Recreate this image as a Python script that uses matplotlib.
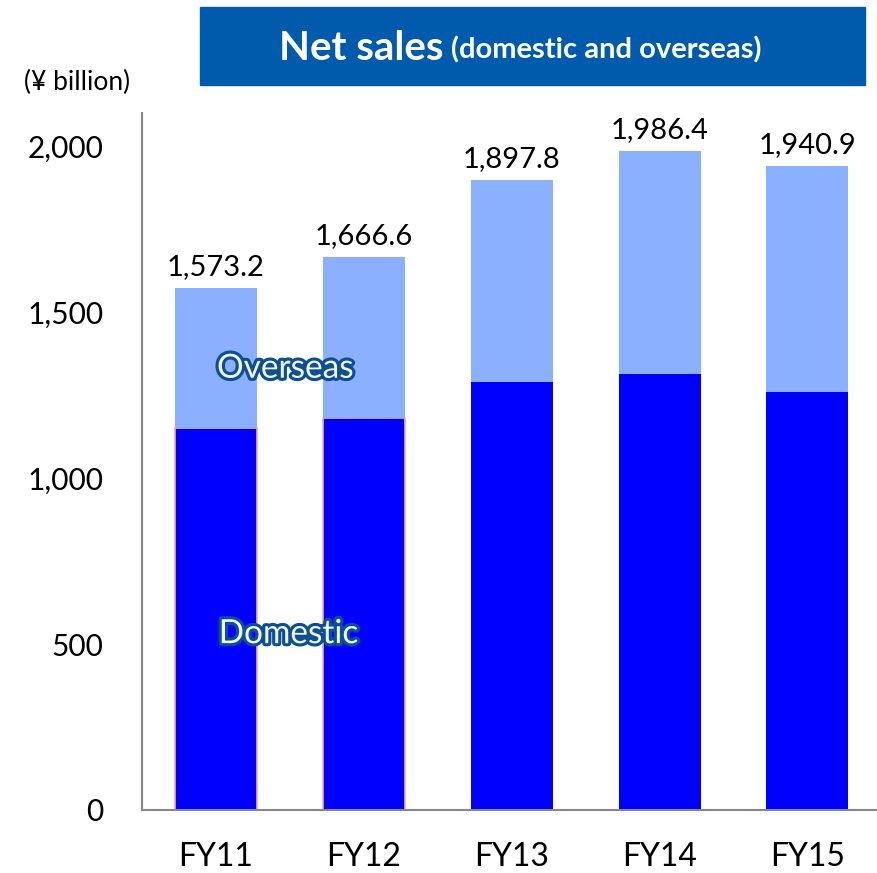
import matplotlib.pyplot as plt
import matplotlib.patheffects as pe
from matplotlib.patches import Rectangle
import numpy as np

plt.rcParams['font.family'] = ['Lato', 'DejaVu Sans']

years = ['FY11', 'FY12', 'FY13', 'FY14', 'FY15']
domestic = [1150.6, 1180.7, 1289.0, 1313.0, 1259.0]
total = [1573.2, 1666.6, 1897.8, 1986.4, 1940.9]
overseas = [t - d for t, d in zip(total, domestic)]
total_labels = ['1,573.2', '1,666.6', '1,897.8', '1,986.4', '1,940.9']

fig = plt.figure(figsize=(8.77, 8.73), dpi=100)
ax = fig.add_axes([0.162, 0.0722, 0.843, 0.798])

x = np.arange(len(years))
w = 0.555
edges = ['#F4B183', '#F4B183', 'none', 'none', 'none']
ax.bar(x, domestic, w, color='#0000FF', edgecolor=edges, linewidth=1.2, zorder=2)
ax.bar(x, overseas, w, bottom=domestic, color='#8AB0FF', edgecolor='none', zorder=2)

for xi, t, lab in zip(x, total, total_labels):
    ax.text(xi, t + 25, lab, ha='center', va='bottom', fontsize=21, color='black')

ax.set_xlim(-0.5, 4.5)
ax.set_ylim(0, 2100)
ax.set_yticks([0, 500, 1000, 1500, 2000])
ax.set_yticklabels(['0', '500', '1,000', '1,500', '2,000'])
ax.set_xticks(x)
ax.set_xticklabels(years)
ax.tick_params(axis='y', length=0, labelsize=21.5, pad=28)
ax.tick_params(axis='x', length=0, labelsize=23, pad=23)
for s in ['top', 'right']:
    ax.spines[s].set_visible(False)
for s in ['left', 'bottom']:
    ax.spines[s].set_color('#888888')
    ax.spines[s].set_linewidth(1.5)

outline = [pe.withStroke(linewidth=4.5, foreground='#0B4F94')]
ax.text(0.47, 1330, 'Overseas', ha='center', va='center', fontsize=24,
        color='#F5F5EE', path_effects=outline, zorder=5)
ax.text(0.49, 530, 'Domestic', ha='center', va='center', fontsize=24,
        color='#F5F5EE', path_effects=outline, zorder=5)

fig.text(0.088, 0.905, '(¥ billion)', ha='center', va='center', fontsize=19)

# title banner
fig.patches.append(Rectangle((200 / 877, 1 - 85 / 873), 665 / 877, 78 / 873,
                             transform=fig.transFigure, color='#005BAC', zorder=0))
t1 = fig.text(0.318, 1 - 48 / 873, 'Net sales', ha='left', va='center',
              fontsize=29, fontweight='bold', color='white')
fig.canvas.draw()
bb = t1.get_window_extent()
fig.text(bb.x1 / 877 + 0.009, 1 - 50 / 873, '(domestic and overseas)', ha='left', va='center',
         fontsize=21, fontweight='bold', color='white')

fig.savefig('out.png', dpi=100)
